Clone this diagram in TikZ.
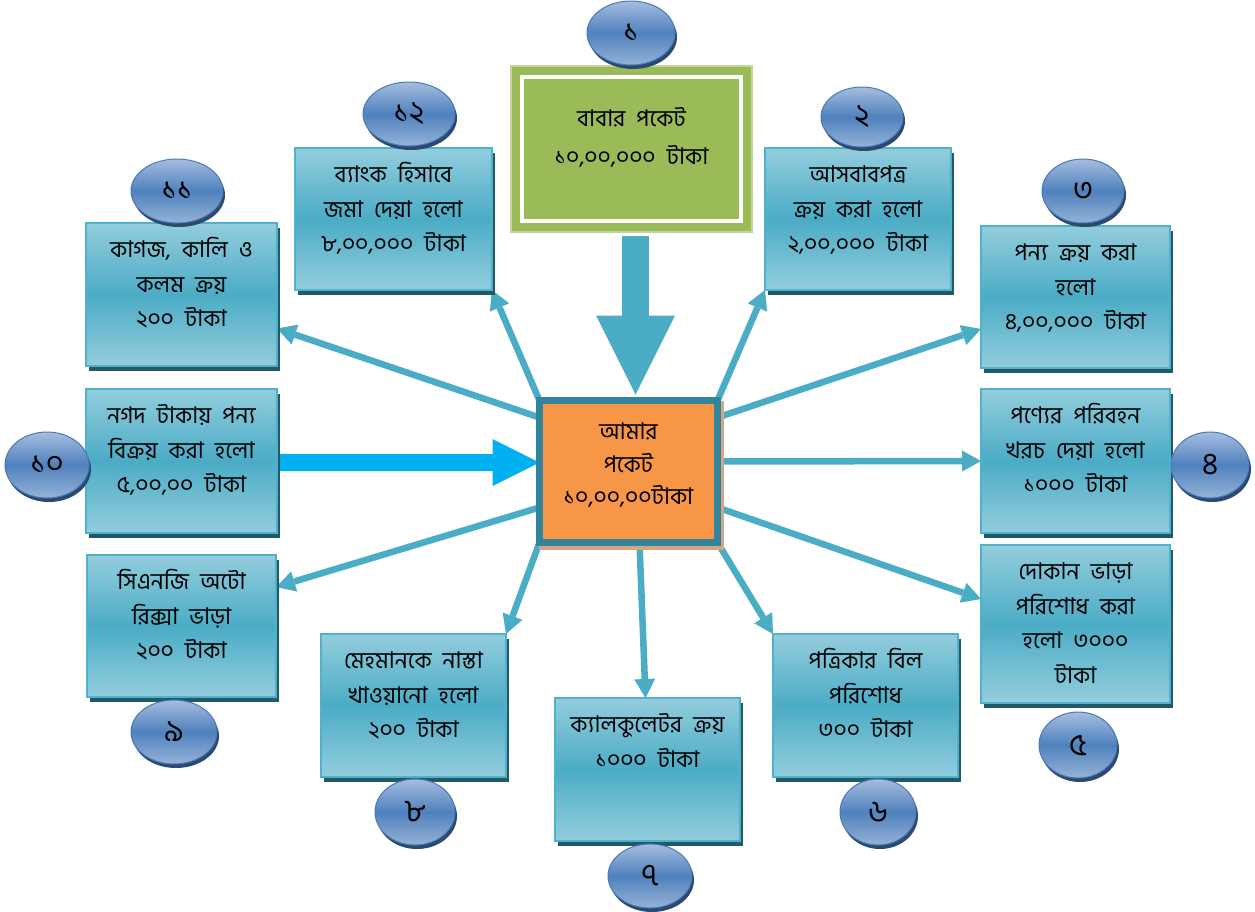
\documentclass[tikz,border=0pt]{standalone}
\usepackage{fontspec}
\newfontfamily\bn[Script=Bengali]{Hind Siliguri}
\usetikzlibrary{arrows.meta,shapes.geometric,shadows,calc}
\pgfdeclarelayer{back}
\pgfdeclarelayer{bg}
\pgfsetlayers{back,bg,main}
\definecolor{boxlight}{HTML}{93CDDD}
\definecolor{boxmid}{HTML}{4BACC6}
\definecolor{boxedge}{HTML}{4FB2CA}
\definecolor{boxshadow}{HTML}{215968}
\definecolor{elltop}{HTML}{A5BDDF}
\definecolor{ellmid}{HTML}{4F81BD}
\definecolor{ellbot}{HTML}{95B3D7}
\definecolor{elledge}{HTML}{4A7AB5}
\definecolor{ellshadow}{HTML}{2A4A72}
\definecolor{arrowteal}{HTML}{4BACC6}
\definecolor{bigcyan}{HTML}{00B0F0}
\definecolor{greenfill}{HTML}{9BBB59}
\definecolor{greenedge}{HTML}{C3D69B}
\definecolor{orangefill}{HTML}{F79646}
\definecolor{orangeedge}{HTML}{31849B}
\definecolor{tanshadow}{HTML}{D4A585}
\newcommand\bxt[4][10.5pt]{\parbox[c][#3][t]{#2}{\centering\vspace*{#1}\strut #4}}
\newcommand\bnfont{\bn\fontsize{23}{34.5}\selectfont\spaceskip=11pt plus 3pt minus 2pt\relax}
\tikzset{
  infobox/.style={rectangle, inner sep=0pt, outer sep=0pt, draw=boxedge, line width=1.5pt,
    top color=boxlight, bottom color=boxlight, middle color=boxmid,
    general shadow={fill=boxshadow, shadow xshift=3pt, shadow yshift=-5pt}},
  numell/.style={ellipse, inner sep=0pt, outer sep=0pt, draw=elledge, line width=1pt,
    top color=elltop, bottom color=ellbot, middle color=ellmid,
    font=\bn\fontsize{31}{34}\selectfont,
    general shadow={fill=ellshadow, shadow xshift=2pt, shadow yshift=-4pt}},
  greenbox/.style={rectangle, inner sep=0pt, outer sep=0pt, fill=greenfill, draw=greenedge, line width=1.5pt},
  centerbox/.style={rectangle, inner sep=0pt, outer sep=0pt, fill=orangefill, draw=orangeedge, line width=7pt,
    general shadow={fill=tanshadow, draw=tanshadow, line width=7pt, shadow xshift=3pt, shadow yshift=-4pt}},
  thinarrow/.style={draw=arrowteal, line width=6.5pt, -{Triangle[length=19pt,width=21pt,line width=0pt]}},
  bigdown/.style={draw=arrowteal, line width=27pt, -{Triangle[length=79pt,width=79pt,line width=0pt]}},
  bigright/.style={draw=bigcyan, line width=17pt, -{Triangle[length=47pt,width=47pt,line width=0pt]}}
}
\begin{document}
\begin{tikzpicture}[x=1pt, y=-1pt, font=\bnfont]
\begin{pgfonlayer}{back}
\fill[white] (0,0) rectangle (1255,911);
\end{pgfonlayer}
\useasboundingbox (0,0) rectangle (1255,911);

% top box
\node[greenbox] (b1) at (631.5,149) {\bxt[36pt]{241pt}{166pt}{বাবার পকেট\\[3.5pt]১০,০০,০০০ টাকা}};
\draw[white, line width=4pt] ([shift={(11pt,-11pt)}]b1.north west) rectangle ([shift={(-11pt,11pt)}]b1.south east);

% center box
\node[centerbox] (c) at (628.5,471.5) {\bxt[15pt]{178pt}{142pt}{আমার\\[-1.5pt]পকেট\\[-3pt]১০,০০,০০টাকা}};

% surrounding boxes
\node[infobox] (b12) at (393.5,219) {\bxt{197pt}{142pt}{ব্যাংক হিসাবে\\জমা দেয়া হলো\\৮,০০,০০০ টাকা}};
\node[infobox] (b2) at (858,219) {\bxt{186pt}{142pt}{আসবাবপত্র\\ক্রয় করা হলো\\২,০০,০০০ টাকা}};
\node[infobox] (b11) at (181.5,294.5) {\bxt{191pt}{143pt}{কাগজ, কালি ও\\কলম ক্রয়\\২০০ টাকা}};
\node[infobox] (b3) at (1075.5,297) {\bxt{189pt}{142pt}{পন্য ক্রয় করা\\হলো\\৪,০০,০০০ টাকা}};
\node[infobox] (b10) at (181.5,461) {\bxt{191pt}{144pt}{নগদ টাকায় পন্য\\বিক্রয় করা হলো\\৫,০০,০০ টাকা}};
\node[infobox] (b4) at (1075.5,461) {\bxt{189pt}{144pt}{পণ্যের পরিবহন\\খরচ দেয়া হলো\\১০০০ টাকা}};
\node[infobox] (b9) at (181.5,626) {\bxt{189pt}{142pt}{সিএনজি অটো\\রিক্সা ভাড়া\\২০০ টাকা}};
\node[infobox] (b5) at (1075.5,624) {\bxt{189pt}{158pt}{দোকান ভাড়া\\পরিশোধ করা\\হলো ৩০০০\\টাকা}};
\node[infobox] (b8) at (413.5,705.5) {\bxt{185pt}{143pt}{মেহমানকে নাস্তা\\খাওয়ানো হলো\\২০০ টাকা}};
\node[infobox] (b6) at (865.5,705.5) {\bxt{185pt}{143pt}{পত্রিকার বিল\\পরিশোধ\\৩০০ টাকা}};
\node[infobox] (b7) at (647.5,769.5) {\bxt{185pt}{143pt}{ক্যালকুলেটর ক্রয়\\১০০০ টাকা}};

% number ellipses
\node[numell, minimum width=88pt, minimum height=64pt] (n1) at (631,33) {১};
\node[numell, minimum width=82pt, minimum height=60pt] (n2) at (862,117) {২};
\node[numell, minimum width=82pt, minimum height=64pt] (n3) at (1083,191) {৩};
\node[numell, minimum width=78pt, minimum height=66pt] (n4) at (1210,465) {৪};
\node[numell, minimum width=78pt, minimum height=66pt] (n5) at (1078,745) {৫};
\node[numell, minimum width=76pt, minimum height=66pt] (n6) at (878,812) {৬};
\node[numell, minimum width=84pt, minimum height=64pt] (n7) at (650,876) {৭};
\node[numell, minimum width=80pt, minimum height=66pt] (n8) at (415,812) {৮};
\node[numell, minimum width=86pt, minimum height=64pt] (n9) at (174,732) {৯};
\node[numell, minimum width=84pt, minimum height=66pt] (n10) at (47,465) {১০};
\node[numell, minimum width=92pt, minimum height=64pt] (n11) at (177,191) {১১};
\node[numell, minimum width=92pt, minimum height=64pt] (n12) at (409,114) {১২};

% connectors
\begin{pgfonlayer}{bg}
\draw[bigdown] ([xshift=4pt,yshift=-4pt]b1.south) -- ([xshift=7pt,yshift=6pt]c.north);
\draw[bigright] ([yshift=-1.5pt]b10.east) -- ([yshift=9pt]c.west);
\draw[thinarrow] (c.north west) -- (b12.south east);
\draw[thinarrow] (c.north east) -- (b2.south west);
\draw[thinarrow] ([yshift=-17pt]c.north west) -- ([yshift=-34pt]b11.east);
\draw[thinarrow] ([yshift=-17pt]c.north east) -- ([yshift=-32pt]b3.west);
\draw[thinarrow] ([yshift=10pt]c.east) -- (b4.west);
\draw[thinarrow] ([yshift=35pt]c.south east) -- ([yshift=25pt]b5.west);
\draw[thinarrow] ([yshift=35pt]c.south west) -- ([yshift=39pt]b9.east);
\draw[thinarrow] (c.south west) -- (b8.north east);
\draw[thinarrow] (c.south east) -- (b6.north west);
\draw[thinarrow] ([xshift=11pt]c.south) -- ([xshift=-2pt]b7.north);
\end{pgfonlayer}
\end{tikzpicture}
\end{document}
